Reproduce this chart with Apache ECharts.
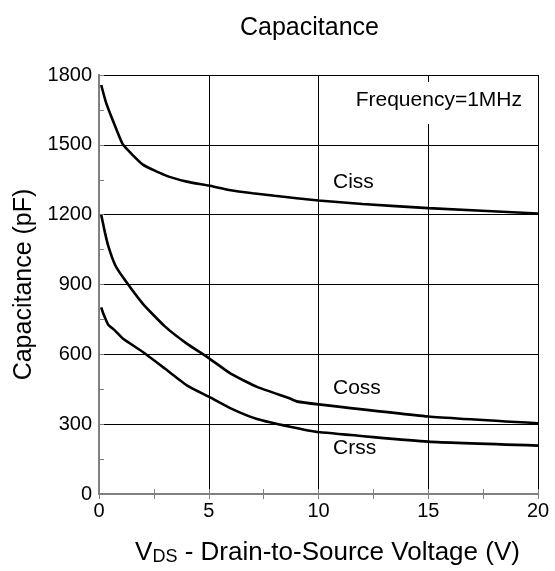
<!DOCTYPE html>
<html>
<head>
<meta charset="utf-8">
<script src="https://cdn.jsdelivr.net/npm/echarts@6/dist/echarts.min.js"></script>
<style>
  html, body { margin: 0; padding: 0; background: #fff; }
  #chart { width: 555px; height: 571px; }
</style>
</head>
<body>
<div id="chart"></div>
<script>
const xTicks = [0, 5, 10, 15, 20];
const yTicks = [0, 300, 600, 900, 1200, 1500, 1800];

// [VDS (V), capacitance (pF)]
const ciss = [
  [0.1, 1757], [0.3, 1688], [0.5, 1636], [0.8, 1565], [1.1, 1500], [2, 1415],
  [3, 1370], [4, 1342], [5, 1325], [6, 1305], [7, 1292], [8, 1281],
  [10, 1261], [12, 1246], [15, 1228], [20, 1205],
];
const coss = [
  [0.1, 1200], [0.27, 1124], [0.42, 1066], [0.73, 985], [1.1, 930], [2, 817],
  [3, 720], [4, 646], [5, 584], [6, 517], [7.2, 460], [8.7, 410],
  [9, 398], [10, 385], [15, 333], [20, 304],
];
const crss = [
  [0.1, 802], [0.2, 774], [0.42, 727], [0.73, 702], [1.1, 667], [2, 610],
  [3, 539], [4, 467], [5, 418], [6, 368], [7.2, 322], [8.7, 289],
  [10, 266], [15, 225], [20, 208],
];

const font = "'Liberation Sans', Arial, sans-serif";
const frameColor = "#808080";
const chart = echarts.init(document.getElementById("chart"));

function baseX(position, showLabels) {
  return {
    type: "value",
    position,
    min: xTicks[0],
    max: xTicks[xTicks.length - 1],
    interval: xTicks[1] - xTicks[0],
    axisLine: { show: true, lineStyle: { color: frameColor, width: 2 } },
    axisTick: { show: true, inside: true, length: 5, lineStyle: { color: frameColor } },
    minorTick: { show: true, splitNumber: 2, length: 5, lineStyle: { color: frameColor, width: 1 } },
    axisLabel: { show: showLabels, color: "#000", fontFamily: font, fontSize: 20, margin: 7 },
    splitLine: { show: showLabels, lineStyle: { color: "#000", width: 1 } },
  };
}

function baseY(position, showLabels) {
  return {
    type: "value",
    position,
    min: yTicks[0],
    max: yTicks[yTicks.length - 1],
    interval: yTicks[1] - yTicks[0],
    axisLine: { show: true, lineStyle: { color: frameColor, width: 2 } },
    axisTick: { show: true, inside: showLabels, length: 5, lineStyle: { color: frameColor } },
    minorTick: { show: true, splitNumber: 2, length: 5, lineStyle: { color: frameColor, width: 1 } },
    axisLabel: {
      show: showLabels,
      color: "#000",
      fontFamily: font,
      fontSize: 20,
      margin: 7,
      formatter: (value) => String(value),
    },
    splitLine: { show: showLabels, lineStyle: { color: "#000", width: 1 } },
  };
}

const xBottom = baseX("bottom", true);
xBottom.name = "{v|V}{s|DS}{v| - Drain-to-Source Voltage (V)}";
xBottom.nameLocation = "middle";
xBottom.nameGap = 46;
xBottom.nameTextStyle = {
  padding: [0, 0, 0, 18],
  rich: {
    v: { fontFamily: font, fontSize: 26, color: "#000", verticalAlign: "bottom" },
    s: { fontFamily: font, fontSize: 18, color: "#000", verticalAlign: "bottom" },
  },
};
const xTop = baseX("top", false);

const yLeft = baseY("left", true);
yLeft.name = "Capacitance (pF)";
yLeft.nameLocation = "middle";
yLeft.nameGap = 56;
yLeft.nameTextStyle = { fontFamily: font, fontSize: 25, color: "#000" };
const yRight = baseY("right", false);

function curve(name, data) {
  return {
    name,
    type: "line",
    data,
    xAxisIndex: 0,
    yAxisIndex: 0,
    showSymbol: false,
    smooth: 0.15,
    lineStyle: { color: "#000", width: 2.6 },
    z: 5,
  };
}

function note(text, left, top) {
  return {
    type: "text",
    left,
    top,
    z: 10,
    style: { text, font: "21px " + font, fill: "#000" },
  };
}

chart.setOption({
  animation: false,
  backgroundColor: "#fff",
  title: {
    text: "Capacitance",
    left: 235,
    top: 11,
    textStyle: { fontFamily: font, fontSize: 25, fontWeight: "normal", color: "#000" },
  },
  grid: { left: 99, right: 17, top: 75, bottom: 75 },
  xAxis: [xBottom, xTop],
  yAxis: [yLeft, yRight],
  series: [curve("Ciss", ciss), curve("Coss", coss), curve("Crss", crss)],
  graphic: [
    note("Ciss", 333, 172),
    note("Coss", 333, 378),
    note("Crss", 333, 438),
    {
      type: "text",
      right: 29,
      top: 82,
      z: 10,
      style: {
        text: "Frequency=1MHz",
        font: "21px " + font,
        fill: "#000",
        backgroundColor: "#fff",
        padding: [8, 4, 13, 4],
      },
    },
  ],
});
</script>
</body>
</html>
